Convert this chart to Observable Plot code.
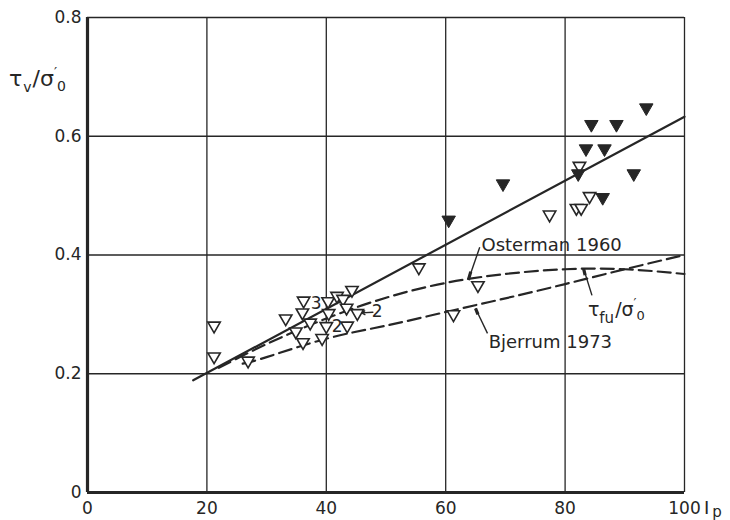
<!DOCTYPE html>
<html>
<head>
<meta charset="utf-8">
<script src="https://cdn.jsdelivr.net/npm/d3@7"></script>
<script src="https://cdn.jsdelivr.net/npm/@observablehq/plot@0.6"></script>
<style>
  html, body { margin: 0; padding: 0; background: #fff; }
  #chart { width: 730px; height: 520px; }
</style>
</head>
<body>
<div id="chart"></div>
<script>
// ---- Data ----
const xTicks = [0, 20, 40, 60, 80, 100];
const xTickLabels = ["0", "20", "40", "60", "80", "100"];
const yTicks = [0, 0.2, 0.4, 0.6, 0.8];
const yTickLabels = ["0", "0.2", "0.4", "0.6", "0.8"];

// open triangles
const openX = [21.2, 21.2, 26.9, 33.2, 34.9, 36.2, 36.0, 37.3, 36.1, 39.3, 40.3, 40.4, 40.0, 41.8, 42.8, 44.3, 43.4, 43.5, 45.2, 55.5, 61.3, 65.4, 77.4, 81.9, 82.7, 84.1, 82.4];
const openY = [0.281, 0.229, 0.222, 0.293, 0.271, 0.323, 0.303, 0.286, 0.253, 0.260, 0.322, 0.302, 0.280, 0.331, 0.326, 0.341, 0.311, 0.281, 0.302, 0.379, 0.300, 0.349, 0.468, 0.479, 0.479, 0.499, 0.550];
// filled triangles
const filledX = [60.5, 69.6, 82.2, 84.4, 88.6, 93.6, 83.5, 86.6, 91.5, 86.3];
const filledY = [0.459, 0.520, 0.537, 0.620, 0.620, 0.648, 0.579, 0.579, 0.537, 0.497];

// solid regression line
const solidX = [17.7, 100];
const solidY = [0.189, 0.633];
// Osterman 1960 (dashed)
const osterX = [22, 30, 40, 50, 60, 70, 80, 90, 100];
const osterY = [0.210, 0.250, 0.293, 0.328, 0.353, 0.368, 0.376, 0.376, 0.368];
// Bjerrum 1973 (dashed)
const bjerX = [26, 30, 40, 50, 60, 70, 80, 90, 100];
const bjerY = [0.217, 0.228, 0.259, 0.281, 0.304, 0.327, 0.351, 0.376, 0.400];

// annotations
const labelText = ["Osterman 1960", "Bjerrum 1973"];
const labelX = [66.0, 67.2];
const labelY = [0.416, 0.253];
const leaderX1 = [65.7, 67.0, 84.5];
const leaderY1 = [0.413, 0.268, 0.332];
const leaderX2 = [63.8, 65.0, 83.1];
const leaderY2 = [0.358, 0.310, 0.377];
const tickX1 = [64.2, 65.4, 83.35];
const tickY1 = [0.372, 0.300, 0.366];
const numText = ["3", "2", "2"];
const numX = [38.3, 41.8, 48.5];
const numY = [0.318, 0.280, 0.304];

// ---- Build rows ----
const openPts = openX.map((x, i) => ({x, y: openY[i]}));
const filledPts = filledX.map((x, i) => ({x, y: filledY[i]}));
const solid = solidX.map((x, i) => ({x, y: solidY[i]}));
const oster = osterX.map((x, i) => ({x, y: osterY[i]}));
const bjer = bjerX.map((x, i) => ({x, y: bjerY[i]}));
const labels = labelText.map((t, i) => ({t, x: labelX[i], y: labelY[i]}));
const leaders = leaderX1.map((x1, i) => ({x1, y1: leaderY1[i], x2: leaderX2[i], y2: leaderY2[i], tx: tickX1[i], ty: tickY1[i]}));
const nums = numText.map((t, i) => ({t, x: numX[i], y: numY[i]}));

const ink = "#262626";
const FONT = "DejaVu Sans";

const svg = Plot.plot({
  width: 730,
  height: 520,
  marginLeft: 87,
  marginRight: 46,
  marginTop: 17,
  marginBottom: 28,
  style: {fontFamily: FONT, fontSize: "17px", color: ink, background: "white", overflow: "visible"},
  x: {domain: [0, 100], axis: null},
  y: {domain: [0, 0.8], axis: null},
  marks: [
    // grid
    Plot.ruleX(xTicks.slice(1), {stroke: ink, strokeWidth: 1.3}),
    Plot.ruleY(yTicks.slice(1), {stroke: ink, strokeWidth: 1.4}),
    // thick axes
    Plot.ruleX([0], {stroke: ink, strokeWidth: 3.2}),
    Plot.ruleY([0], {stroke: ink, strokeWidth: 3.2}),
    // tick labels
    Plot.axisX(xTicks, {tickSize: 0, tickPadding: 9, tickFormat: (d) => xTickLabels[xTicks.indexOf(d)], fontSize: 17, fill: ink, label: null}),
    Plot.axisY(yTicks, {tickSize: 0, tickPadding: 6, tickFormat: (d) => yTickLabels[yTicks.indexOf(d)], fontSize: 17, fill: ink, label: null}),
    // lines
    Plot.line(solid, {x: "x", y: "y", stroke: ink, strokeWidth: 2.2}),
    Plot.line(oster, {x: "x", y: "y", stroke: ink, strokeWidth: 2.2, strokeDasharray: "13,6", curve: "natural"}),
    Plot.line(bjer, {x: "x", y: "y", stroke: ink, strokeWidth: 2.2, strokeDasharray: "13,6", curve: "natural"}),
    // leaders
    Plot.link(leaders, {x1: "x1", y1: "y1", x2: "x2", y2: "y2", stroke: ink, strokeWidth: 1.4}),
    Plot.link(leaders, {x1: "tx", y1: "ty", x2: "x2", y2: "y2", stroke: ink, strokeWidth: 3.2}),
    // small arrow to "2"
    Plot.arrow([{x1: 47.8, y1: 0.3035, x2: 45.9, y2: 0.3025}], {x1: "x1", y1: "y1", x2: "x2", y2: "y2", stroke: ink, strokeWidth: 1.4, headLength: 7}),
    // points
    Plot.dot(openPts, {x: "x", y: "y", symbol: "triangle", r: 4.6, rotate: 180, fill: "white", stroke: ink, strokeWidth: 1.6}),
    Plot.dot(filledPts, {x: "x", y: "y", symbol: "triangle", r: 5, rotate: 180, fill: ink, stroke: ink, strokeWidth: 1}),
    // text labels
    Plot.text(labels, {x: "x", y: "y", text: "t", textAnchor: "start", fontSize: 18, fill: ink}),
    Plot.text(nums, {x: "x", y: "y", text: "t", textAnchor: "middle", fontSize: 17, fill: ink})
  ]
});

// rich text (subscripts/primes) placed via the plot's own scales
const sx = svg.scale("x"), sy = svg.scale("y");
const root = d3.select(svg);

// y-axis title τv/σ'0
const yl = root.append("text").attr("x", 9).attr("y", 86).attr("text-anchor", "start")
  .attr("fill", ink).attr("font-family", FONT).attr("font-size", 22);
yl.append("tspan").text("τ");
yl.append("tspan").attr("font-size", 14).attr("dy", 6).attr("dx", 1).text("v");
yl.append("tspan").attr("dy", -6).attr("dx", 1).text("/σ");
yl.append("tspan").attr("font-size", 14).attr("dy", -9).text("′");
yl.append("tspan").attr("font-size", 14).attr("dy", 14).text("0");

// x-axis title Ip
const xl = root.append("text").attr("x", sx.apply(100) + 20).attr("y", sy.apply(0) + 22).attr("text-anchor", "start")
  .attr("fill", ink).attr("font-family", FONT).attr("font-size", 18);
xl.append("tspan").text("I");
xl.append("tspan").attr("font-size", 15).attr("dy", 3).attr("dx", 3).text("p");

// τfu/σ'0 annotation
const tl = root.append("text").attr("x", sx.apply(83.9)).attr("y", sy.apply(0.296)).attr("text-anchor", "start")
  .attr("fill", ink).attr("font-family", FONT).attr("font-size", 19);
tl.append("tspan").text("τ");
tl.append("tspan").attr("font-size", 15).attr("dy", 7).text("fu");
tl.append("tspan").attr("dy", -7).attr("dx", 1).text("/σ");
tl.append("tspan").attr("font-size", 13).attr("dy", -9).text("′");
tl.append("tspan").attr("font-size", 13).attr("dy", 13).text("0");

document.getElementById("chart").appendChild(svg);
</script>
</body>
</html>
